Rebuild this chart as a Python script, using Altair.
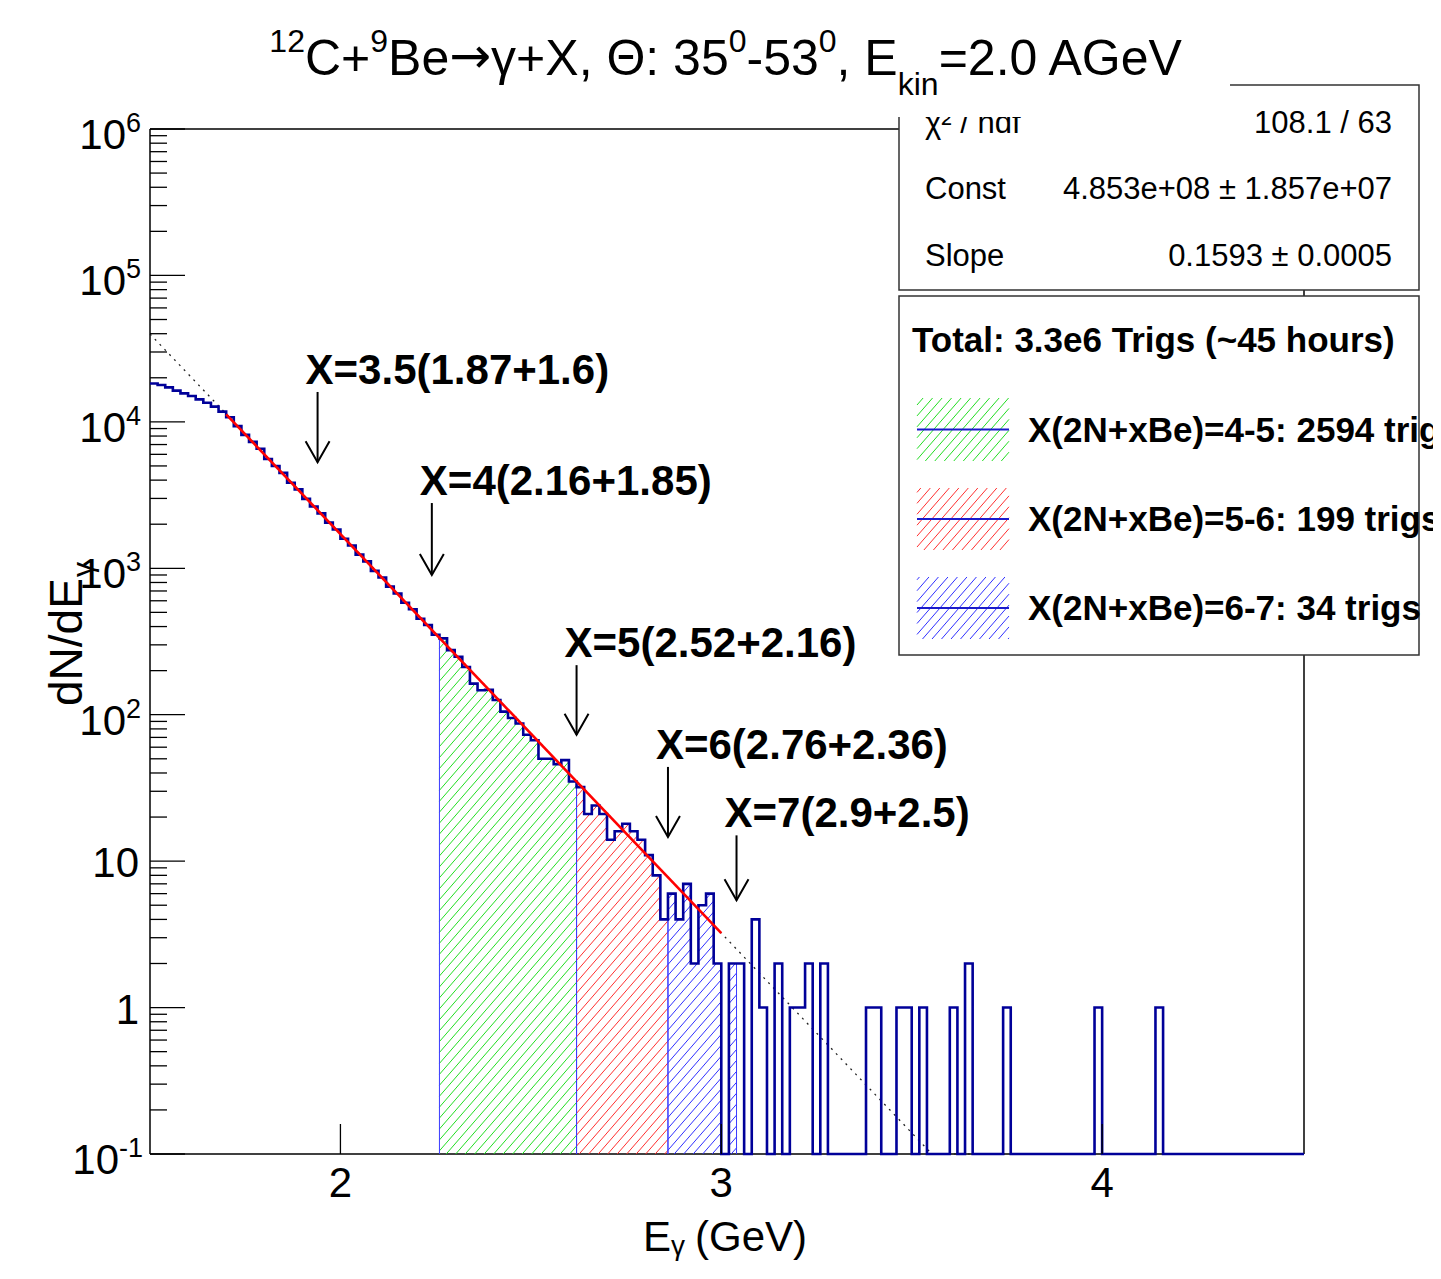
import math
import altair as alt
import pandas as pd

FONT = "Liberation Sans"

# ---------------- data ----------------
BIN_START = 1.50      # GeV, lower edge of first bin
BIN_WIDTH = 0.02      # GeV
counts = [
    18300, 17850, 17200, 16350, 15650, 15000, 14250, 13500, 12700, 11750,   # 1.50-1.68
    10750, 9350, 8150, 7300, 6550, 5580, 4990, 4480, 3840, 3460,            # 1.70-1.88
    2980, 2640, 2370, 2050, 1840, 1590, 1430, 1240, 1115, 960,              # 1.90-2.08
    865, 750, 672, 582, 525, 452, 410, 352, 332, 276,                       # 2.10-2.28
    249, 212, 163, 147, 148, 126, 105, 95, 87, 73,                          # 2.30-2.48
    67, 50, 50, 46, 49, 35, 32, 21, 24, 21,                                 # 2.50-2.68
    14, 16, 18, 16, 14, 11, 8, 4, 6, 4,                                     # 2.70-2.88
    7, 2, 5, 6, 2, 0, 2, 2, 0, 4,                                           # 2.90-3.08
    1, 0, 2, 0, 1, 1, 2, 0, 2, 0,                                           # 3.10-3.28
    0, 0, 0, 0, 1, 1, 0, 0, 1, 1,                                           # 3.30-3.48
    0, 1, 0, 0, 0, 1, 0, 2, 0, 0,                                           # 3.50-3.68
    0, 0, 1, 0, 0, 0, 0, 0, 0, 0,                                           # 3.70-3.88
    0, 0, 0, 0, 1, 0, 0, 0, 0, 0,                                           # 3.90-4.08
    0, 0, 1, 0, 0, 0, 0, 0, 0, 0,                                           # 4.10-4.28
    0, 0, 0, 0, 0, 0, 0, 0, 0, 0,                                           # 4.30-4.48
    0,                                                                      # 4.50
]

# hatched sub-ranges
region_lo = [2.26, 2.62, 2.86]
region_hi = [2.62, 2.86, 3.04]
region_color = ["#22dd22", "#ff3030", "#3030ff"]
legend_labels = ["X(2N+xBe)=4-5: 2594 trigs",
                 "X(2N+xBe)=5-6: 199 trigs",
                 "X(2N+xBe)=6-7: 34 trigs"]
legend_header = "Total: 3.3e6 Trigs (~45 hours)"

# exponential fit (straight on log axis): fitted range and full-range dotted curve
fit_E = [1.70, 3.00]
fit_v = [11250, 3.22]
fitdot_E = [1.50, 3.553, 3.99]
fitdot_v = [39800, 0.1, 0.1]

stat_labels = ["\u03c7\u00b2 / ndf", "Const", "Slope"]
stat_values = ["108.1 / 63", "4.853e+08 \u00b1 1.857e+07", "0.1593 \u00b1 0.0005"]

# arrows with their labels
ann_text = ["X=3.5(1.87+1.6)", "X=4(2.16+1.85)", "X=5(2.52+2.16)",
            "X=6(2.76+2.36)", "X=7(2.9+2.5)"]
ann_E = [1.94, 2.24, 2.62, 2.86, 3.04]
ann_top = [16000, 2790, 218, 44, 15]
ann_tip = [5300, 900, 73, 14.6, 5.4]

# axes
xtick_vals = [2, 3, 4]
ylab_vals = [1e6, 1e5, 1e4, 1e3, 1e2, 1e1, 1, 0.1]
ylab_base = ["10", "10", "10", "10", "10", "10", "1", "10"]
ylab_exp = ["6", "5", "4", "3", "2", "", "", "-1"]

title_parts = ["12", "C+", "9", "Be", "\u2192", "\u03b3+X, \u0398: 35", "0", "-53", "0", ", E", "kin", "=2.0 AGeV"]
title_kinds = ["sup", "n", "sup", "n", "arrow", "n", "sup", "n", "sup", "n", "sub", "n"]

# ---------------- geometry ----------------
W, H = 1154, 1025
XMIN, XMAX = 1.50, 4.53
LMIN, LMAX = -1, 6
FLOOR = 0.1
OX, OY = 150, 129          # absolute position of plot origin in the page


def A(x):  # absolute page x -> plot-relative
    return x - OX


def B(y):
    return y - OY


def px(E):
    return (E - XMIN) / (XMAX - XMIN) * W


def py(v):
    return (LMAX - math.log10(v)) / (LMAX - LMIN) * H


def inv_px(x):
    return XMIN + x / W * (XMAX - XMIN)


def inv_py(y):
    return 10 ** (LMAX - y / H * (LMAX - LMIN))


def edge(i):
    return round(BIN_START + i * BIN_WIDTH, 6)


def idx(E):
    return int(round((E - BIN_START) / BIN_WIDTH))


xs = alt.Scale(domain=[XMIN, XMAX], nice=False, zero=False)
ys = alt.Scale(type="log", domain=[FLOOR, 1e6], nice=False)


def X(f):
    return alt.X(f, type="quantitative", scale=xs, axis=None)


def Y(f):
    return alt.Y(f, type="quantitative", scale=ys, axis=None)


def PX(f):
    return alt.X(f, type="quantitative", scale=None, axis=None)


def PY(f):
    return alt.Y(f, type="quantitative", scale=None, axis=None)


ONE = alt.Data(values=[{"k": 0}])


def text(s, x, y, size, bold=False, align="left", angle=None, color="black", font=FONT):
    kw = dict(text=s, font=font, fontSize=size, align=align,
              baseline="alphabetic", color=color)
    if bold:
        kw["fontWeight"] = "bold"
    if angle is not None:
        kw["angle"] = angle
    return alt.Chart(ONE).mark_text(**kw).encode(x=alt.value(x), y=alt.value(y))


def rect(x1, y1, x2, y2, stroke=None):
    kw = dict(fill="white")
    if stroke:
        kw.update(stroke=stroke, strokeWidth=1.5)
    return alt.Chart(ONE).mark_rect(**kw).encode(
        x=alt.value(x1), x2=alt.value(x2), y=alt.value(y1), y2=alt.value(y2))


def prule(x1, y1, x2, y2, color="black", width=1.5):
    return alt.Chart(ONE).mark_rule(color=color, strokeWidth=width).encode(
        x=alt.value(x1), x2=alt.value(x2), y=alt.value(y1), y2=alt.value(y2))


def hatch(cols, spacing=9.5, slope=1.15):
    d = spacing * slope
    cmin = min(yt + slope * xl for xl, xr, yt, yb in cols)
    cmax = max(yb + slope * xr for xl, xr, yt, yb in cols)
    segs = []
    for k in range(math.ceil(cmin / d), math.floor(cmax / d) + 1):
        c = k * d
        merged = []
        for xl, xr, yt, yb in cols:
            x0 = max(xl, (c - yb) / slope)
            x1 = min(xr, (c - yt) / slope)
            if x1 - x0 > 0.3:
                if merged and abs(x0 - merged[-1][1]) < 1e-6:
                    merged[-1][1] = x1
                else:
                    merged.append([x0, x1])
        for x0, x1 in merged:
            segs.append((x0, c - slope * x0, x1, c - slope * x1))
    return segs


layers = []

# ---------------- frame ----------------
layers += [prule(0, 0, W, 0), prule(W, 0, W, H), prule(0, 0, 0, H), prule(0, H, W, H)]

# ---------------- hatched regions ----------------
for lo, hi, col in zip(region_lo, region_hi, region_color):
    cols = []
    verts = [{"E": lo, "v": FLOOR, "o": 0}]
    o = 1
    for i in range(idx(lo), idx(hi)):
        c = counts[i]
        v = c if c > 0 else FLOOR
        verts.append({"E": edge(i), "v": v, "o": o})
        verts.append({"E": edge(i + 1), "v": v, "o": o + 1})
        o += 2
        if c > 0:
            cols.append((px(edge(i)), px(edge(i + 1)), py(c), H))
    verts.append({"E": hi, "v": FLOOR, "o": o})
    segs = hatch(cols)
    df = pd.DataFrame([{"E0": inv_px(a), "v0": inv_py(b), "E1": inv_px(c2), "v1": inv_py(d2)}
                       for a, b, c2, d2 in segs])
    layers.append(alt.Chart(df).mark_rule(color=col, strokeWidth=1).encode(
        x=X("E0"), y=Y("v0"), x2=alt.X2("E1"), y2=alt.Y2("v1")))
    layers.append(alt.Chart(pd.DataFrame(verts)).mark_line(
        color="#3a3aff", strokeWidth=1).encode(x=X("E"), y=Y("v"), order="o:Q"))

# ---------------- dotted full-range fit ----------------
layers.append(alt.Chart(pd.DataFrame({"E": fitdot_E, "v": fitdot_v})).mark_line(
    color="#222222", strokeWidth=1.3, strokeDash=[2, 5]).encode(x=X("E"), y=Y("v")))

# ---------------- main histogram ----------------
hist_rows = []
for i, c in enumerate(counts):
    v = c if c > 0 else FLOOR
    hist_rows.append({"E": edge(i), "v": v, "o": 2 * i})
    hist_rows.append({"E": edge(i + 1), "v": v, "o": 2 * i + 1})
hist_rows.append({"E": XMAX, "v": FLOOR, "o": 2 * len(counts)})
layers.append(alt.Chart(pd.DataFrame(hist_rows)).mark_line(
    color="#000099", strokeWidth=2.6, strokeJoin="miter").encode(
    x=X("E"), y=Y("v"), order="o:Q"))

# ---------------- fitted line ----------------
layers.append(alt.Chart(pd.DataFrame({"E": fit_E, "v": fit_v})).mark_line(
    color="#ff0000", strokeWidth=2.6).encode(x=X("E"), y=Y("v")))

# ---------------- ticks ----------------
maj = [10.0 ** k for k in range(LMIN, LMAX + 1)]
mino = [m * 10.0 ** k for k in range(LMIN, LMAX) for m in range(2, 10)]
layers.append(alt.Chart(pd.DataFrame({"v": maj})).mark_rule(color="black", strokeWidth=1.3).encode(
    y=Y("v"), x=alt.value(0), x2=alt.value(35)))
layers.append(alt.Chart(pd.DataFrame({"v": mino})).mark_rule(color="black", strokeWidth=1.3).encode(
    y=Y("v"), x=alt.value(0), x2=alt.value(17)))
layers.append(alt.Chart(pd.DataFrame({"E": xtick_vals})).mark_rule(color="black", strokeWidth=1.3).encode(
    x=X("E"), y=alt.value(H - 30), y2=alt.value(H)))

# ---------------- axis labels ----------------
xl_df = pd.DataFrame({"E": xtick_vals, "t": [str(t) for t in xtick_vals]})
layers.append(alt.Chart(xl_df).mark_text(font=FONT, fontSize=42, align="center",
                                         baseline="alphabetic").encode(
    x=X("E"), y=alt.value(B(1197)), text="t:N"))

yl = pd.DataFrame({"v": ylab_vals, "base": ylab_base, "exp": ylab_exp})
yl["bx"] = [-17 - 7 * len(e) for e in ylab_exp]
yl_exp = yl[yl["exp"] != ""]
yl_pl = yl[yl["exp"] == ""]
layers.append(alt.Chart(yl_exp).mark_text(font=FONT, fontSize=42, align="right",
                                          baseline="alphabetic", dy=20).encode(
    x=PX("bx"), y=Y("v"), text="base:N"))
layers.append(alt.Chart(yl_exp).mark_text(font=FONT, fontSize=27, align="left",
                                          baseline="alphabetic", dy=3).encode(
    x=PX("bx"), y=Y("v"), text="exp:N"))
layers.append(alt.Chart(yl_pl).mark_text(font=FONT, fontSize=42, align="right",
                                         baseline="alphabetic", dy=16).encode(
    x=alt.value(-11), y=Y("v"), text="base:N"))

# axis titles
layers.append(text("E", A(643), B(1251), 42))
layers.append(text("\u03b3", A(671), B(1255), 28))
layers.append(text("(GeV)", A(695), B(1251), 42))
layers.append(text("dN/dE", A(82), B(706), 46, angle=270))
layers.append(text("\u03b3", A(93), B(577), 30, angle=270))

# ---------------- arrows ----------------
ann = pd.DataFrame({"E": ann_E, "top": ann_top, "tip": ann_tip, "t": ann_text})
layers.append(alt.Chart(ann).mark_rule(color="black", strokeWidth=2).encode(
    x=X("E"), y=Y("top"), y2=alt.Y2("tip")))
layers.append(alt.Chart(ann).mark_point(shape="M -0.57 -1 L 0 0 L 0.57 -1", filled=False,
                                        size=1764, stroke="black", strokeWidth=2,
                                        opacity=1).encode(x=X("E"), y=Y("tip")))
layers.append(alt.Chart(ann).mark_text(font=FONT, fontSize=42, fontWeight="bold",
                                       align="left", baseline="alphabetic",
                                       dx=-12, dy=-8).encode(
    x=X("E"), y=Y("top"), text="t:N"))

# ---------------- stat box ----------------
layers.append(rect(A(899), B(85), A(1419), B(290), stroke="#333333"))
stat_base = [133, 199, 266]
for lab, val, yb in zip(stat_labels, stat_values, stat_base):
    layers.append(text(lab, A(925), B(yb), 31))
    layers.append(text(val, A(1392), B(yb), 31, align="right"))

# ---------------- title (its white pave covers the top of the stat box) ----------------
layers.append(rect(A(240), B(0), A(1230), B(117)))
EM = {" ": .278, "+": .584, "=": .584, "-": .333, ",": .278, ".": .278, ":": .278,
      "A": .667, "B": .667, "C": .722, "E": .667, "G": .778, "V": .667, "X": .667,
      "e": .556, "i": .222, "k": .5, "n": .556, "\u2192": .838, "\u03b3": .5, "\u0398": .778}


def tw(s, size):
    return sum(EM.get(ch, .556) for ch in s) * size


T_SIZE = {"n": 50, "sup": 32, "sub": 32, "arrow": 50}
T_BASE = {"n": 75, "sup": 52, "sub": 95, "arrow": 73}
T_FONT = {"n": FONT, "sup": FONT, "sub": FONT, "arrow": "DejaVu Sans"}
total = sum(tw(p, T_SIZE[k]) for p, k in zip(title_parts, title_kinds))
xcur = 727 - total / 2
for p, k in zip(title_parts, title_kinds):
    layers.append(text(p, A(xcur), B(T_BASE[k]), T_SIZE[k], font=T_FONT[k]))
    xcur += tw(p, T_SIZE[k])

# ---------------- legend box ----------------
layers.append(rect(A(899), B(296), A(1419), B(655), stroke="#333333"))
layers.append(text(legend_header, A(912), B(352), 35, bold=True))
sw_top = [398, 488, 577]
sw_bot = [461, 550, 639]
for lab, col, t0, t1 in zip(legend_labels, region_color, sw_top, sw_bot):
    segs = hatch([(A(917), A(1009), B(t0), B(t1))])
    df = pd.DataFrame([{"x0": a, "y0": b, "x1": c2, "y1": d2} for a, b, c2, d2 in segs])
    layers.append(alt.Chart(df).mark_rule(color=col, strokeWidth=1).encode(
        x=PX("x0"), y=PY("y0"), x2=alt.X2("x1"), y2=alt.Y2("y1")))
    mid = (t0 + t1) / 2
    layers.append(prule(A(917), B(mid), A(1009), B(mid), color="#1a1acc", width=2))
    layers.append(text(lab, A(1028), B(mid + 12), 35, bold=True))

chart = alt.layer(*layers).properties(
    width=W, height=H,
    padding={"left": OX - 8, "top": OY - 8, "right": 129, "bottom": 110},
    autosize=alt.AutoSizeParams(type="none"),
    background="white",
).configure_view(stroke=None)

chart.save("out.html", embed_options={"renderer": "svg", "actions": False})
